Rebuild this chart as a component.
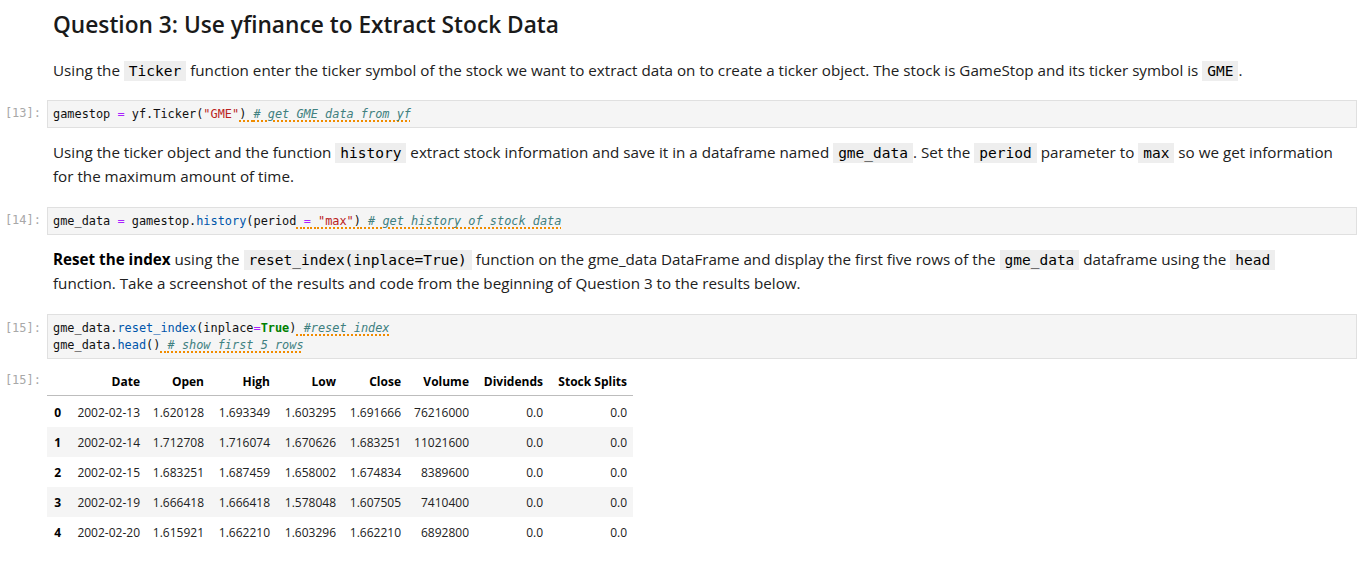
import React from "react";

// ---------- data ----------
const columns = ["Date", "Open", "High", "Low", "Close", "Volume", "Dividends", "Stock Splits"];
const rowIndex = ["0", "1", "2", "3", "4"];
const dates = ["2002-02-13", "2002-02-14", "2002-02-15", "2002-02-19", "2002-02-20"];
const opens = ["1.620128", "1.712708", "1.683251", "1.666418", "1.615921"];
const highs = ["1.693349", "1.716074", "1.687459", "1.666418", "1.662210"];
const lows = ["1.603295", "1.670626", "1.658002", "1.578048", "1.603296"];
const closes = ["1.691666", "1.683251", "1.674834", "1.607505", "1.662210"];
const volumes = ["76216000", "11021600", "8389600", "7410400", "6892800"];
const dividends = ["0.0", "0.0", "0.0", "0.0", "0.0"];
const splits = ["0.0", "0.0", "0.0", "0.0", "0.0"];

const heading = "Question 3: Use yfinance to Extract Stock Data";

// ---------- styles ----------
const BODY = "'Open Sans', sans-serif";
const MONO = "'DejaVu Sans Mono', monospace";
const TEXT = "#212121";
const PROMPT = "#a8a8a8";
const OP = "#aa22ff";
const STR = "#ba2121";
const PROP = "#0055aa";
const KW = "#008000";
const COMMENT = "#408080";

const colWidths = [20, 79, 64, 66, 66, 65, 68, 74, 84];

const Code = ({ children }: { children: React.ReactNode }) => (
  <span
    style={{
      fontFamily: MONO,
      fontSize: 14.5,
      background: "#eeeeee",
      padding: "2px 5px 2px 5px",
      color: "#000",
    }}
  >
    {children}
  </span>
);

const Squig = ({ children }: { children: React.ReactNode }) => (
  <span
    style={{
      textDecorationLine: "underline",
      textDecorationStyle: "dotted",
      textDecorationColor: "#f08c00",
      textDecorationThickness: "1.5px",
      textUnderlineOffset: "2px",
    }}
  >
    {children}
  </span>
);

const Comment = ({ children }: { children: React.ReactNode }) => (
  <span style={{ color: COMMENT, fontStyle: "italic" }}>{children}</span>
);

function Line({ top, children }: { top: number; children: React.ReactNode }) {
  return (
    <div
      style={{
        position: "absolute",
        left: 53,
        top,
        height: 24,
        lineHeight: "24px",
        fontFamily: BODY,
        fontSize: 15.2,
        color: TEXT,
        whiteSpace: "nowrap",
      }}
    >
      {children}
    </div>
  );
}

function Prompt({ top, label }: { top: number; label: string }) {
  return (
    <div
      style={{
        position: "absolute",
        left: 0,
        width: 41,
        top,
        height: 17,
        lineHeight: "17px",
        textAlign: "right",
        fontFamily: MONO,
        fontSize: 12,
        color: PROMPT,
        whiteSpace: "pre",
      }}
    >
      {label}
    </div>
  );
}

function CodeCell({ top, height, lines }: { top: number; height: number; lines: React.ReactNode[] }) {
  return (
    <div
      style={{
        position: "absolute",
        left: 47,
        top,
        width: 1310,
        height,
        boxSizing: "border-box",
        border: "1px solid #e0e0e0",
        background: "#f5f5f5",
      }}
    >
      {lines.map((ln, i) => (
        <div
          key={i}
          style={{
            position: "absolute",
            left: 5,
            top: 5 + i * 17,
            height: 17,
            lineHeight: "17px",
            fontFamily: MONO,
            fontSize: 11.9,
            color: "#111",
            whiteSpace: "pre",
          }}
        >
          {ln}
        </div>
      ))}
    </div>
  );
}

function Table() {
  const tableRows = rowIndex.map((idx, i) => [
    idx,
    dates[i],
    opens[i],
    highs[i],
    lows[i],
    closes[i],
    volumes[i],
    dividends[i],
    splits[i],
  ]);
  const header = ["", ...columns];
  return (
    <div style={{ position: "absolute", left: 47, top: 368, fontFamily: BODY, fontSize: 12 }}>
      <div
        style={{
          display: "flex",
          height: 27,
          lineHeight: "27px",
          borderBottom: "1px solid #bdbdbd",
          fontWeight: 700,
          color: "#000",
        }}
      >
        {header.map((h, j) => (
          <div
            key={j}
            style={{ width: colWidths[j], boxSizing: "border-box", paddingRight: 6, textAlign: "right", whiteSpace: "nowrap" }}
          >
            {h}
          </div>
        ))}
      </div>
      <div style={{ height: 1 }} />
      {tableRows.map((r, i) => (
        <div
          key={i}
          style={{
            display: "flex",
            height: 30,
            lineHeight: "31px",
            background: i % 2 === 1 ? "#f5f5f5" : "transparent",
            color: TEXT,
          }}
        >
          {r.map((v, j) => (
            <div
              key={j}
              style={{
                width: colWidths[j],
                boxSizing: "border-box",
                paddingRight: 6,
                textAlign: "right",
                whiteSpace: "nowrap",
                fontWeight: j === 0 ? 700 : 400,
                color: j === 0 ? "#000" : TEXT,
              }}
            >
              {v}
            </div>
          ))}
        </div>
      ))}
    </div>
  );
}

export default function App() {
  return (
    <div style={{ position: "absolute", left: 0, top: 0, width: 1359, height: 562, background: "#fff", overflow: "hidden" }}>
      <div
        style={{
          position: "absolute",
          left: 53,
          top: 10,
          height: 30,
          lineHeight: "30px",
          fontFamily: BODY,
          fontWeight: 600,
          fontSize: 22.7,
          color: "#1a1a1a",
          whiteSpace: "nowrap",
        }}
      >
        {heading}
      </div>

      <Line top={58}>
        Using the <Code>Ticker</Code> function enter the ticker symbol of the stock we want to extract data on to create a
        ticker object. The stock is GameStop and its ticker symbol is <Code>GME</Code>.
      </Line>

      <Prompt top={105} label="[13]:" />
      <CodeCell
        top={100}
        height={28}
        lines={[
          <>
            gamestop <span style={{ color: OP }}>=</span> yf.Ticker(<span style={{ color: STR }}>"GME"</span>
            <Squig>
              ) <Comment># get GME data from yf</Comment>
            </Squig>
          </>,
        ]}
      />

      <Line top={140}>
        Using the ticker object and the function <Code>history</Code> extract stock information and save it in a dataframe
        named <Code>gme_data</Code>. Set the <Code>period</Code> parameter to <Code>max</Code> so we get information
      </Line>
      <Line top={164}>for the maximum amount of time.</Line>

      <Prompt top={212} label="[14]:" />
      <CodeCell
        top={207}
        height={28}
        lines={[
          <>
            gme_data <span style={{ color: OP }}>=</span> gamestop.<span style={{ color: PROP }}>history</span>(period
            <Squig>
              {" "}
              <span style={{ color: OP }}>=</span> <span style={{ color: STR }}>"max"</span>){" "}
              <Comment># get history of stock data</Comment>
            </Squig>
          </>,
        ]}
      />

      <Line top={247}>
        <b style={{ fontWeight: 700, color: "#000" }}>Reset the index</b> using the <Code>reset_index(inplace=True)</Code>{" "}
        function on the gme_data DataFrame and display the first five rows of the <Code>gme_data</Code> dataframe using the{" "}
        <Code>head</Code>
      </Line>
      <Line top={271}>
        function. Take a screenshot of the results and code from the beginning of Question 3 to the results below.
      </Line>

      <Prompt top={320} label="[15]:" />
      <CodeCell
        top={314}
        height={45}
        lines={[
          <>
            gme_data.<span style={{ color: PROP }}>reset_index</span>(inplace<span style={{ color: OP }}>=</span>
            <span style={{ color: KW, fontWeight: 700 }}>True</span>)
            <Squig>
              {" "}
              <Comment>#reset index</Comment>
            </Squig>
          </>,
          <>
            gme_data.<span style={{ color: PROP }}>head</span>()
            <Squig>
              {" "}
              <Comment># show first 5 rows</Comment>
            </Squig>
          </>,
        ]}
      />

      <Prompt top={372} label="[15]:" />
      <Table />
    </div>
  );
}
